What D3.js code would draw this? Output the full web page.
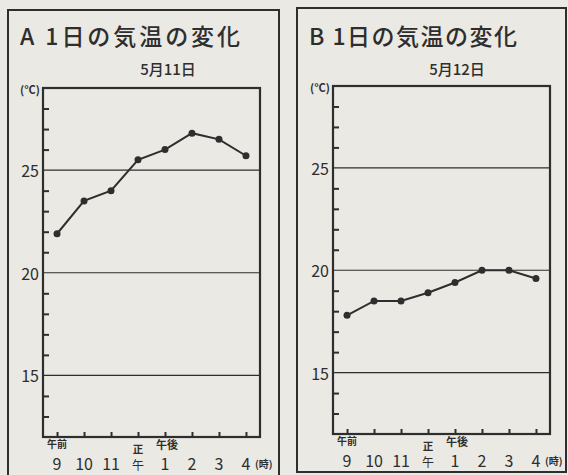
<!DOCTYPE html>
<html>
<head>
<meta charset="utf-8">
<script src="https://cdn.jsdelivr.net/npm/d3@7"></script>
<style>
  body { margin: 0; background: #ebe9e3; }
  svg { display: block; }
  text { font-family: "Noto Sans CJK JP", "Noto Sans", sans-serif; fill: #2e2e2e; }
</style>
</head>
<body>
<div id="chart"></div>
<script>
// data
var hours = ["9", "10", "11", "12", "1", "2", "3", "4"];
var hourLabels = ["9", "10", "11", "午", "1", "2", "3", "4"];
var tempA = [21.9, 23.5, 24.0, 25.5, 26.0, 26.8, 26.5, 25.7];
var tempB = [17.8, 18.5, 18.5, 18.9, 19.4, 20.0, 20.0, 19.6];
var gridValues = [15, 20, 25];
var minorValues = d3.range(13, 29);
var panels = [
  { key: "A", title: "A 1日の気温の変化", date: "5月11日", temps: tempA },
  { key: "B", title: "B 1日の気温の変化", date: "5月12日", temps: tempB }
];

var ink = "#2e2e2e";

var svg = d3.select("#chart")
  .append("svg")
  .attr("width", 568)
  .attr("height", 475);

// layout of each panel (outer frame + plot box)
var layout = [
  { ox: 8, oy: 10, ow: 271, oh: 470, px: 43, py: 88, pw: 217, ph: 349, titleW: 220 },
  { ox: 297, oy: 8, ow: 269, oh: 464, px: 333, py: 86, pw: 217, ph: 348, titleW: 208 }
];

panels.forEach(function(p, i) {
  var L = layout[i];
  var g = svg.append("g");

  // outer frame
  g.append("rect")
    .attr("x", L.ox).attr("y", L.oy)
    .attr("width", L.ow).attr("height", L.oh)
    .attr("fill", "none")
    .attr("stroke", ink)
    .attr("stroke-width", 2);

  // title
  g.append("text")
    .attr("x", L.ox + 12)
    .attr("y", 45)
    .attr("font-size", 23)
    .attr("font-weight", 500)
    .attr("textLength", L.titleW)
    .attr("lengthAdjust", "spacing")
    .text(p.title);

  g.append("text")
    .attr("x", L.ox + 160)
    .attr("y", 75)
    .attr("text-anchor", "middle")
    .attr("font-size", 15)
    .attr("font-weight", 500)
    .text(p.date);

  // scales
  var x = d3.scalePoint()
    .domain(hours)
    .range([L.px, L.px + L.pw])
    .padding(0.52);

  var y = d3.scaleLinear()
    .domain([12, 29])
    .range([L.py + L.ph, L.py]);

  // grid lines at 15, 20, 25
  g.selectAll(".grid")
    .data(gridValues)
    .enter().append("line")
    .attr("class", "grid")
    .attr("x1", L.px).attr("x2", L.px + L.pw)
    .attr("y1", function(d) { return y(d); })
    .attr("y2", function(d) { return y(d); })
    .attr("stroke", ink)
    .attr("stroke-width", 1.2);

  // y axis: minor ticks inside, labels at grid values
  var yAxis = g.append("g")
    .attr("transform", "translate(" + L.px + ",0)")
    .call(d3.axisRight(y)
      .tickValues(minorValues.filter(function(d) { return gridValues.indexOf(d) < 0; }))
      .tickSize(6)
      .tickFormat(""));
  yAxis.select(".domain").remove();
  yAxis.selectAll("line").attr("stroke", ink).attr("stroke-width", 2);

  g.selectAll(".ylab")
    .data(gridValues)
    .enter().append("text")
    .attr("class", "ylab")
    .attr("x", L.px - 4)
    .attr("y", function(d) { return y(d) + 7; })
    .attr("text-anchor", "end")
    .attr("font-size", 16)
    .text(function(d) { return d; });

  g.append("text")
    .attr("x", L.px - 3)
    .attr("y", L.py + 6)
    .attr("text-anchor", "end")
    .attr("font-size", 11)
    .attr("font-weight", "bold")
    .text("(°C)");

  // x axis ticks pointing up
  var xAxis = g.append("g")
    .attr("transform", "translate(0," + (L.py + L.ph) + ")")
    .call(d3.axisTop(x).tickSize(5).tickFormat(""));
  xAxis.select(".domain").remove();
  xAxis.selectAll("line").attr("stroke", ink).attr("stroke-width", 2);

  // plot box
  g.append("rect")
    .attr("x", L.px).attr("y", L.py)
    .attr("width", L.pw).attr("height", L.ph)
    .attr("fill", "none")
    .attr("stroke", ink)
    .attr("stroke-width", 2.2);

  // hour labels
  var base = L.py + L.ph + 33;
  g.selectAll(".xlab")
    .data(hours)
    .enter().append("text")
    .attr("class", "xlab")
    .attr("x", function(d) { return x(d); })
    .attr("y", base)
    .attr("text-anchor", "middle")
    .attr("font-size", function(d, j) { return j === 3 ? 12 : 16; })
    .text(function(d, j) { return hourLabels[j]; });

  g.append("text")
    .attr("x", x("9") - 10).attr("y", base - 22)
    .attr("font-size", 10).attr("font-weight", "bold")
    .text("午前");
  g.append("text")
    .attr("x", x("12")).attr("y", base - 17)
    .attr("text-anchor", "middle")
    .attr("font-size", 10.5).attr("font-weight", "bold")
    .text("正");
  g.append("text")
    .attr("x", x("1") - 9).attr("y", base - 21)
    .attr("font-size", 11).attr("font-weight", "bold")
    .text("午後");
  g.append("text")
    .attr("x", x("4") + 9).attr("y", base - 2)
    .attr("font-size", 10).attr("font-weight", "bold")
    .text("(時)");

  // temperature line
  var line = d3.line()
    .x(function(d, j) { return x(hours[j]); })
    .y(function(d) { return y(d); });

  g.append("path")
    .datum(p.temps)
    .attr("d", line)
    .attr("fill", "none")
    .attr("stroke", ink)
    .attr("stroke-width", 2);

  g.selectAll(".dot")
    .data(p.temps)
    .enter().append("circle")
    .attr("class", "dot")
    .attr("cx", function(d, j) { return x(hours[j]); })
    .attr("cy", function(d) { return y(d); })
    .attr("r", 3.5)
    .attr("fill", ink);
});
</script>
</body>
</html>
